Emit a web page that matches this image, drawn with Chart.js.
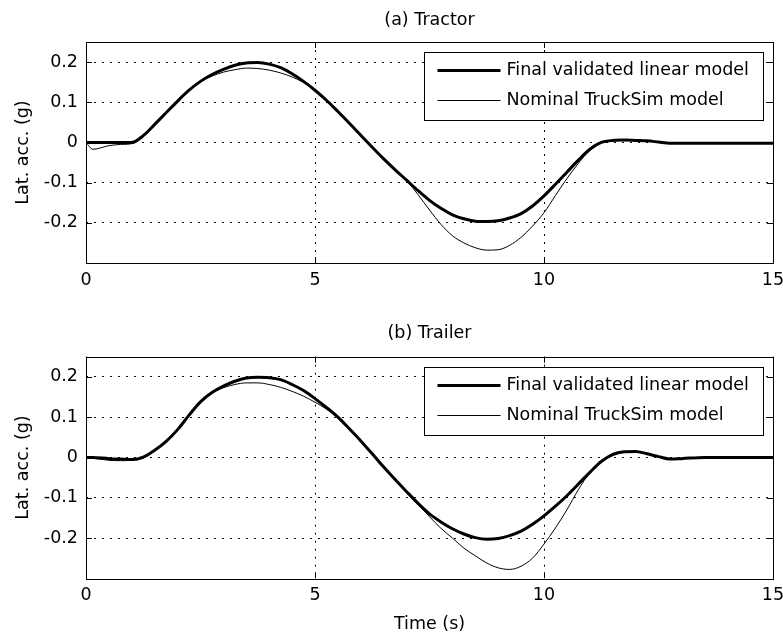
<!DOCTYPE html>
<html>
<head>
<meta charset="utf-8">
<title>Lat. acc.</title>
<script src="https://cdn.jsdelivr.net/npm/chart.js@4.4.1/dist/chart.umd.min.js"></script>
<style>
  body { margin: 0; background: #fff; }
  canvas { display: block; }
</style>
</head>
<body>
<canvas id="tractorChart" width="783" height="300"></canvas>
<canvas id="trailerChart" width="783" height="339"></canvas>
<script>
// time samples (s)
const time = [0, 0.15, 0.5, 0.75, 1.0, 1.25, 1.5, 1.75, 2.0, 2.25, 2.5, 2.75, 3.0, 3.25, 3.5, 3.75, 4.0, 4.25, 4.5, 4.75,
  5.0, 5.25, 5.5, 5.75, 6.0, 6.25, 6.5, 6.75, 7.0, 7.25, 7.5, 7.75, 8.0, 8.25, 8.5, 8.75, 9.0, 9.25, 9.5, 9.75,
  10.0, 10.25, 10.5, 10.75, 11.0, 11.25, 11.5, 11.75, 12.0, 12.25, 12.5, 12.75, 13.0, 13.5, 14.0, 14.5, 15.0];

// (a) Tractor
const tractorLinear = [0, 0, 0, 0, 0, 0.017, 0.045, 0.074, 0.103, 0.13, 0.152, 0.169, 0.182, 0.192, 0.198, 0.199, 0.195, 0.186, 0.171, 0.152,
  0.13, 0.105, 0.077, 0.048, 0.018, -0.012, -0.041, -0.068, -0.094, -0.12, -0.144, -0.164, -0.18, -0.19, -0.196, -0.197, -0.195, -0.188, -0.177, -0.158,
  -0.133, -0.104, -0.074, -0.044, -0.017, 0.0, 0.005, 0.006, 0.005, 0.004, 0.001, -0.002, -0.002, -0.002, -0.002, -0.002, -0.002];
const tractorTruckSim = [0, -0.017, -0.008, -0.005, -0.003, 0.015, 0.045, 0.074, 0.103, 0.13, 0.151, 0.165, 0.175, 0.181, 0.185, 0.184, 0.18, 0.173, 0.163, 0.149,
  0.13, 0.105, 0.077, 0.048, 0.018, -0.012, -0.041, -0.068, -0.095, -0.13, -0.168, -0.204, -0.232, -0.25, -0.262, -0.268, -0.267, -0.256, -0.236, -0.208,
  -0.175, -0.132, -0.09, -0.052, -0.02, 0.0, 0.005, 0.006, 0.005, 0.004, 0.001, -0.002, -0.002, -0.002, -0.002, -0.002, -0.002];

// (b) Trailer
const trailerLinear = [0, 0, -0.003, -0.004, -0.005, 0.001, 0.018, 0.04, 0.069, 0.105, 0.138, 0.161, 0.177, 0.189, 0.197, 0.199, 0.198, 0.193, 0.181, 0.166,
  0.146, 0.124, 0.1, 0.071, 0.041, 0.009, -0.024, -0.055, -0.085, -0.114, -0.14, -0.16, -0.177, -0.19, -0.199, -0.203, -0.201, -0.194, -0.183, -0.166,
  -0.145, -0.121, -0.095, -0.066, -0.037, -0.01, 0.007, 0.014, 0.015, 0.009, 0.002, -0.004, -0.003, 0, 0, 0, 0];
const trailerTruckSim = [0, -0.002, -0.007, -0.008, -0.007, -0.002, 0.016, 0.04, 0.069, 0.105, 0.138, 0.16, 0.173, 0.181, 0.185, 0.185, 0.181, 0.174, 0.164, 0.152,
  0.137, 0.12, 0.099, 0.071, 0.041, 0.009, -0.024, -0.055, -0.086, -0.117, -0.147, -0.176, -0.2, -0.225, -0.244, -0.262, -0.274, -0.278, -0.27, -0.25,
  -0.215, -0.175, -0.13, -0.08, -0.038, -0.01, 0.01, 0.014, 0.015, 0.009, 0.002, -0.004, -0.003, 0, 0, 0, 0];

const seriesLabels = ['Final validated linear model', 'Nominal TruckSim model'];
const xTicks = [0, 5, 10, 15];
const yTicks = [-0.2, -0.1, 0, 0.1, 0.2];

const fontFamily = '"DejaVu Sans", sans-serif';
const fontSize = 17.5;

// matlab-like box: frame, inward ticks and a legend inside the axes
const boxPlugin = {
  id: 'matlabBox',
  afterDatasetsDraw(chart) {
    const ctx = chart.ctx;
    const a = chart.chartArea;
    const sx = chart.scales.x;
    const sy = chart.scales.y;
    ctx.save();
    ctx.strokeStyle = '#000';
    ctx.lineWidth = 1;
    ctx.setLineDash([]);
    ctx.beginPath();
    for (const v of xTicks) {
      const x = Math.round(sx.getPixelForValue(v)) + 0.5;
      ctx.moveTo(x, a.bottom); ctx.lineTo(x, a.bottom - 6);
      ctx.moveTo(x, a.top); ctx.lineTo(x, a.top + 6);
    }
    for (const v of yTicks) {
      const y = Math.round(sy.getPixelForValue(v)) + 0.5;
      ctx.moveTo(a.left, y); ctx.lineTo(a.left + 6, y);
      ctx.moveTo(a.right, y); ctx.lineTo(a.right - 6, y);
    }
    ctx.stroke();
    ctx.strokeRect(Math.round(a.left) + 0.5, Math.round(a.top) + 0.5, Math.round(a.width), Math.round(a.height));

    // legend
    const w = 339, h = 68;
    const left = Math.round(a.right - 10 - w) + 0.5;
    const top = Math.round(a.top + 10) + 0.5;
    ctx.fillStyle = '#fff';
    ctx.fillRect(left, top, w, h);
    ctx.strokeRect(left, top, w, h);
    ctx.font = fontSize + 'px ' + fontFamily;
    ctx.textBaseline = 'middle';
    ctx.fillStyle = '#000';
    chart.data.datasets.forEach((ds, i) => {
      const y = top + 18 + i * 30;
      ctx.lineWidth = ds.borderWidth;
      ctx.beginPath();
      ctx.moveTo(left + 13, y);
      ctx.lineTo(left + 76, y);
      ctx.stroke();
      ctx.fillText(ds.label, left + 82, y);
    });
    ctx.restore();
  }
};

function makeDataset(label, values, width) {
  return {
    label: label,
    data: time.map((t, i) => ({ x: t, y: values[i] })),
    borderColor: '#000',
    borderWidth: width,
    pointRadius: 0,
    fill: false,
    cubicInterpolationMode: 'monotone'
  };
}

function makeChart(id, title, linear, truckSim, lay) {
  const font = { family: fontFamily, size: fontSize, weight: 'normal' };
  return new Chart(document.getElementById(id), {
    type: 'line',
    data: {
      datasets: [
        makeDataset(seriesLabels[0], linear, 3),
        makeDataset(seriesLabels[1], truckSim, 1)
      ]
    },
    options: {
      responsive: false,
      animation: false,
      layout: { padding: { right: 10 } },
      plugins: {
        legend: { display: false },
        tooltip: { enabled: false },
        title: {
          display: true,
          fullSize: false,
          text: title,
          color: '#000',
          font: font,
          padding: { top: lay.titleTop, bottom: lay.titleBottom }
        }
      },
      scales: {
        x: {
          type: 'linear',
          min: 0,
          max: 15,
          afterBuildTicks: s => { s.ticks = xTicks.map(v => ({ value: v })); },
          afterFit: s => { s.height = lay.xHeight; s.paddingLeft = 0; s.paddingRight = 0; },
          grid: { color: '#000', lineWidth: 1, drawTicks: false },
          border: { display: false, dash: [2, 6] },
          ticks: { color: '#000', font: font, padding: 6.5, maxRotation: 0, callback: v => String(v) },
          title: {
            display: lay.showXTitle,
            text: 'Time (s)',
            color: '#000',
            font: font,
            padding: { top: 0, bottom: 4.5 }
          }
        },
        y: {
          min: -0.3,
          max: 0.25,
          afterBuildTicks: s => { s.ticks = yTicks.map(v => ({ value: v })); },
          afterFit: s => { s.width = 86; },
          grid: { color: '#000', lineWidth: 1, drawTicks: false },
          border: { display: false, dash: [2, 6] },
          ticks: { color: '#000', font: font, padding: 8, callback: v => String(v) },
          title: {
            display: true,
            text: 'Lat. acc. (g)',
            color: '#000',
            font: font,
            padding: { top: 13, bottom: 0 }
          }
        }
      }
    },
    plugins: [boxPlugin]
  });
}

makeChart('tractorChart', '(a) Tractor', tractorLinear, tractorTruckSim,
  { titleTop: 9.5, titleBottom: 11.5, xHeight: 37, showXTitle: false });
makeChart('trailerChart', '(b) Trailer', trailerLinear, trailerTruckSim,
  { titleTop: 22.5, titleBottom: 13.2, xHeight: 60.7, showXTitle: true });
</script>
</body>
</html>
